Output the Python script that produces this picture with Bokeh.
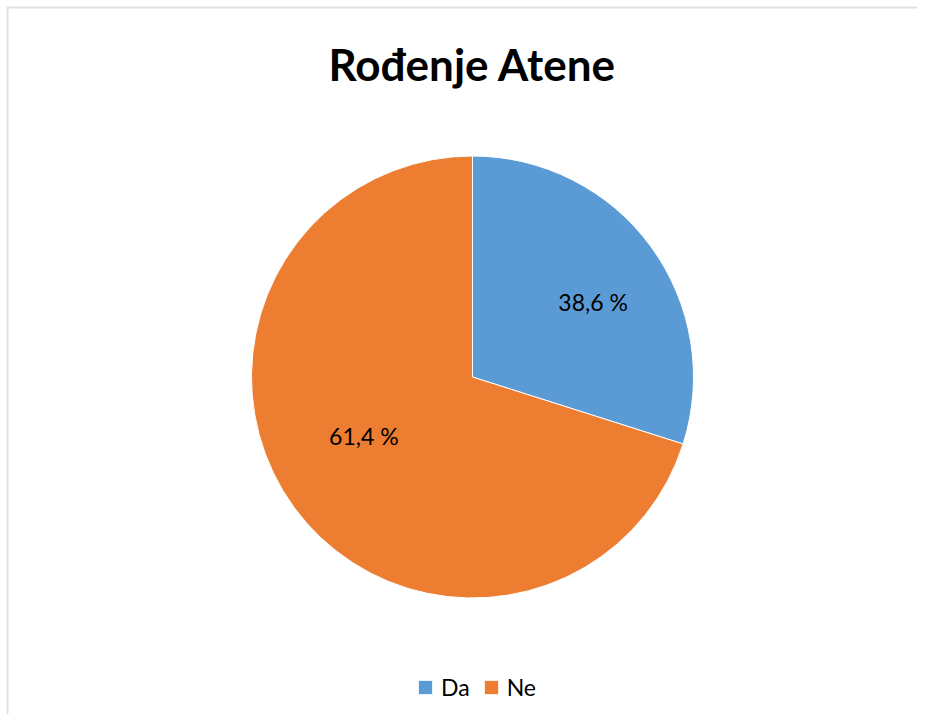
import math
from bokeh.plotting import figure
from bokeh.models import Range1d, Label, Legend, LegendItem, ColumnDataSource, BoxAnnotation
from bokeh.core.properties import value
from bokeh.embed import file_html
from bokeh.resources import INLINE

# ---- data ----
title_text = "Rođenje Atene"
categories = ["Da", "Ne"]
slice_shares = [29.9, 70.1]          # drawn share of the circle
slice_labels = ["38,6 %", "61,4 %"]  # data label texts as printed
colors = ["#5B9BD5", "#ED7D31"]

# ---- layout constants ----
W, H = 917, 714
CX, CY = 472, 376.5          # pie centre in canvas px (from top-left)
R = 221
FONT = "Lato"
LABEL_R = 0.6 * R
LABEL_SHIFT = math.radians(6)

p = figure(width=W, height=H, output_backend="svg", toolbar_location=None,
           x_range=Range1d(-CX, W - CX), y_range=Range1d(-(H - CY), CY),
           min_border=0)
p.axis.visible = False
p.grid.visible = False
p.background_fill_color = "white"
p.border_fill_color = "white"
p.outline_line_color = None

# chart-area border (its right and bottom edges fall outside the view)
p.add_layout(BoxAnnotation(left=7, right=W + 20, top=H - 7, bottom=-20,
                           left_units="screen", right_units="screen",
                           top_units="screen", bottom_units="screen",
                           fill_alpha=0, line_color="#9a9a9a", line_width=2))

total = sum(slice_shares)
starts, ends, mids = [], [], []
a = math.pi / 2
for s in slice_shares:
    span = s / total * 2 * math.pi
    starts.append(a)
    ends.append(a - span)
    mids.append(a - span / 2 - LABEL_SHIFT)
    a -= span

src = ColumnDataSource(dict(
    cat=categories, start=starts, end=ends, color=colors,
    lx=[LABEL_R * math.cos(m) for m in mids],
    ly=[LABEL_R * math.sin(m) for m in mids],
    lab=slice_labels,
))

wedges = p.wedge(x=0, y=0, radius=R, start_angle="start", end_angle="end",
                 direction="clock", fill_color="color", line_color="white",
                 line_width=1, source=src)

p.text(x="lx", y="ly", text="lab", source=src, text_align="center",
       text_baseline="middle", text_font=value(FONT), text_font_size="23px",
       text_color="#000000", x_offset=6, y_offset=-8)

p.add_layout(Label(x=472, y=H - 63, x_units="screen", y_units="screen",
                   text=title_text, text_font=FONT, text_font_size="44px",
                   text_font_style="bold", text_align="center",
                   text_baseline="alphabetic", text_color="#000000"))

items = [LegendItem(label=c, renderers=[wedges], index=i) for i, c in enumerate(categories)]
legend = Legend(items=items, orientation="horizontal", location=(416, 13),
                glyph_width=18, glyph_height=18, label_standoff=7, spacing=12,
                padding=0, margin=0, border_line_alpha=0, background_fill_alpha=0,
                label_text_font=FONT, label_text_font_size="23px",
                label_text_color="#000000")
p.add_layout(legend, "center")

open("out.html", "w").write(file_html(p, INLINE))
